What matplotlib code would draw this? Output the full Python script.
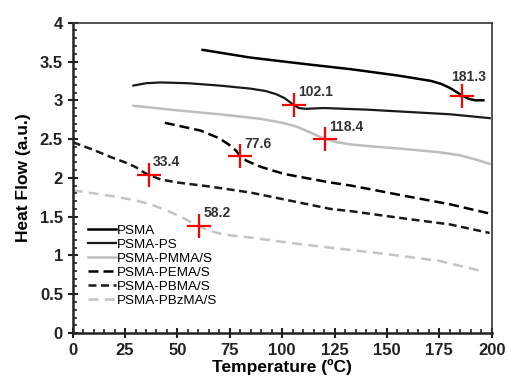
import matplotlib
matplotlib.use("Agg")
import matplotlib.pyplot as plt
from matplotlib.ticker import MultipleLocator

plt.rcParams.update({
    "font.family": ["Liberation Sans", "DejaVu Sans"],
    "font.size": 10,
})

# ── 曲线数据 ──
psma_x = [62, 85, 110, 133, 155, 171, 176, 180, 183, 186, 189, 192, 196]
psma_y = [3.65, 3.55, 3.47, 3.40, 3.32, 3.25, 3.21, 3.16, 3.11, 3.06, 3.02, 3.00, 3.00]

ps_x = [29, 35, 42, 55, 70, 85, 92, 97, 101, 104, 106, 108, 111, 120, 140, 160, 180, 199]
ps_y = [3.19, 3.22, 3.23, 3.22, 3.19, 3.15, 3.12, 3.08, 3.03, 2.97, 2.93, 2.90, 2.89,
        2.90, 2.88, 2.85, 2.82, 2.77]

pmma_x = [29, 50, 70, 90, 100, 107, 113, 118, 121, 126, 133, 145, 155, 175, 185, 192, 199]
pmma_y = [2.93, 2.87, 2.82, 2.76, 2.71, 2.66, 2.59, 2.53, 2.50, 2.46, 2.43, 2.40, 2.38,
          2.33, 2.29, 2.24, 2.18]

pema_x = [44, 61, 70, 75, 78, 80, 83, 90, 101, 123, 133, 160, 180, 199]
pema_y = [2.71, 2.61, 2.51, 2.42, 2.35, 2.28, 2.22, 2.14, 2.05, 1.94, 1.90, 1.76, 1.66, 1.54]

pbma_x = [0, 10, 18, 25, 30, 34, 37, 42, 50, 65, 85, 123, 133, 160, 180, 199]
pbma_y = [2.46, 2.36, 2.27, 2.20, 2.14, 2.07, 2.03, 1.98, 1.94, 1.89, 1.81, 1.60, 1.57,
          1.47, 1.40, 1.29]

pbzma_x = [0, 20, 30, 37, 45, 53, 57, 60, 65, 72, 85, 110, 149, 175, 195]
pbzma_y = [1.84, 1.76, 1.71, 1.66, 1.58, 1.48, 1.42, 1.38, 1.32, 1.27, 1.23, 1.14, 1.02,
           0.93, 0.80]

# Tg 标记
tg_x = [36.4, 80, 60.3, 105.7, 120.6, 186]
tg_y = [2.04, 2.28, 1.38, 2.94, 2.50, 3.05]
tg_labels = ["33.4", "77.6", "58.2", "102.1", "118.4", "181.3"]

SERIES = [
    ("PSMA", psma_x, psma_y, "#000000", "-", 1.8),
    ("PSMA-PS", ps_x, ps_y, "#1a1a1a", "-", 1.6),
    ("PSMA-PMMA/S", pmma_x, pmma_y, "#bdbdbd", "-", 1.8),
    ("PSMA-PEMA/S", pema_x, pema_y, "#000000", (0, (4, 2)), 1.8),
    ("PSMA-PBMA/S", pbma_x, pbma_y, "#1a1a1a", (0, (3.2, 1.8)), 1.8),
    ("PSMA-PBzMA/S", pbzma_x, pbzma_y, "#c4c4c4", (0, (4, 2.5)), 1.8),
]

fig = plt.figure(figsize=(5.08, 3.85), dpi=100)
ax = fig.add_axes([0.143, 0.135, 0.825, 0.806])

for label, xs, ys, c, ls, lw in SERIES:
    ax.plot(xs, ys, color=c, linestyle=ls, linewidth=lw, label=label)

ax.plot(tg_x, tg_y, linestyle="none", marker="+", markersize=17,
        markeredgewidth=1.6, color="#ff0000", zorder=5)
for x, y, t in zip(tg_x, tg_y, tg_labels):
    off = (-8, 9) if t == "181.3" else (3, 4)
    ax.annotate(t, (x, y), xytext=off, textcoords="offset points",
                ha="left", va="bottom", fontsize=10, fontweight="bold",
                color="#333333")

ax.set_xlim(0, 200)
ax.set_ylim(0, 4)
ax.xaxis.set_major_locator(MultipleLocator(25))
ax.xaxis.set_minor_locator(MultipleLocator(5))
ax.yaxis.set_major_locator(MultipleLocator(0.5))
ax.yaxis.set_minor_locator(MultipleLocator(0.1))
ax.yaxis.set_major_formatter(plt.FuncFormatter(lambda v, p: f"{v:g}"))

ax.tick_params(which="major", direction="inout", length=7, width=1.5,
               labelsize=12, colors="#222222")
ax.tick_params(which="minor", direction="in", length=3, width=1.2, colors="#222222")
for lab in ax.get_xticklabels() + ax.get_yticklabels():
    lab.set_fontweight("bold")

for side in ["left", "bottom"]:
    ax.spines[side].set_linewidth(1.8)
    ax.spines[side].set_color("#222222")
for side in ["top", "right"]:
    ax.spines[side].set_linewidth(1.2)
    ax.spines[side].set_color("#333333")

ax.set_xlabel("Temperature (ºC)", fontsize=12.5, fontweight="bold", labelpad=1)
ax.set_ylabel("Heat Flow (a.u.)", fontsize=12.5, fontweight="bold", labelpad=6)

ax.legend(loc="upper left", bbox_to_anchor=(0.036, 0.35), frameon=False,
          fontsize=9.7, handlelength=2.1, handletextpad=0.1, labelspacing=0.12,
          borderaxespad=0, borderpad=0)

fig.savefig("out.png", dpi=100)
